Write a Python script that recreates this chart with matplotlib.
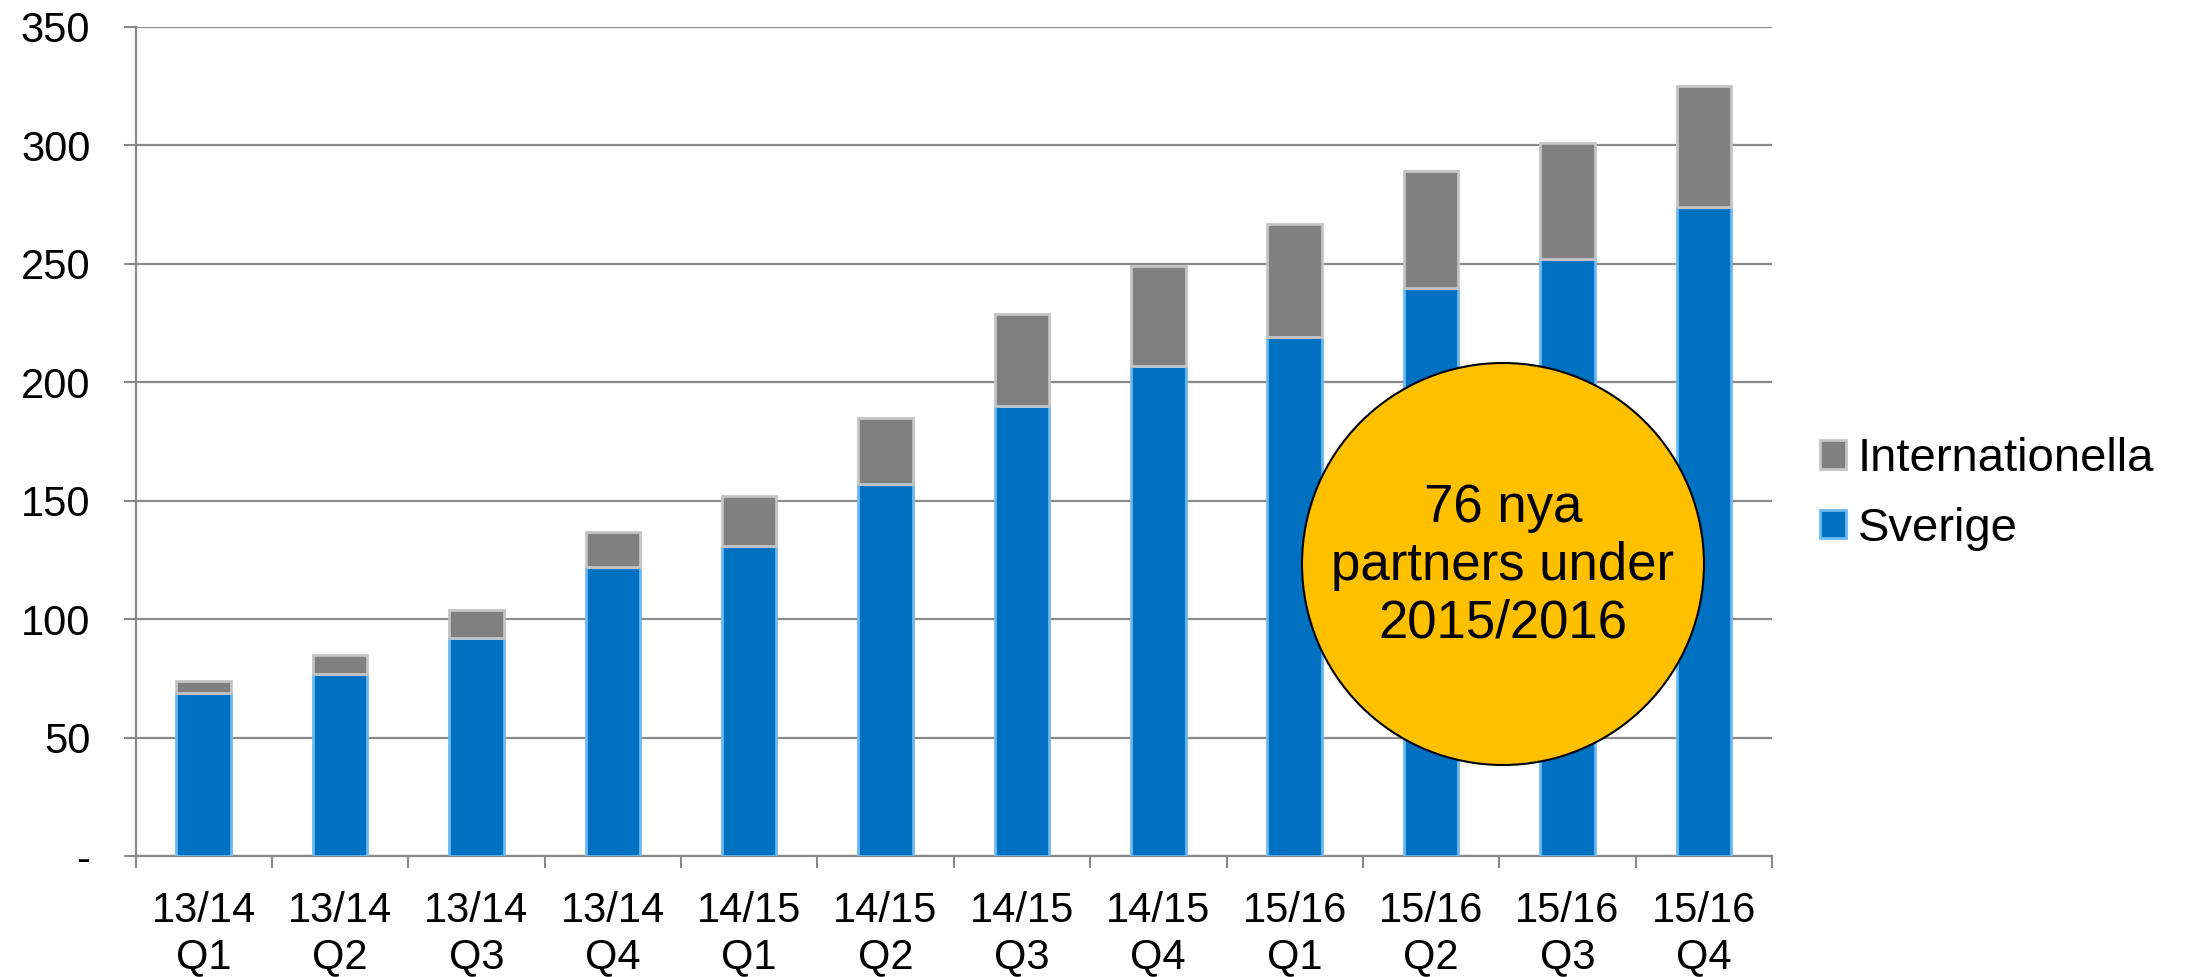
import matplotlib
matplotlib.use("Agg")
import matplotlib.pyplot as plt
import numpy as np
from matplotlib.patches import Ellipse, Patch

plt.rcParams['font.family'] = ['Liberation Sans', 'DejaVu Sans']

# ---- data ----
categories = ["13/14\nQ1", "13/14\nQ2", "13/14\nQ3", "13/14\nQ4",
              "14/15\nQ1", "14/15\nQ2", "14/15\nQ3", "14/15\nQ4",
              "15/16\nQ1", "15/16\nQ2", "15/16\nQ3", "15/16\nQ4"]
sverige = [69, 77, 92, 122, 131, 157, 190, 207, 219, 240, 252, 274]
internationella = [5, 8, 12, 15, 21, 28, 39, 42, 48, 49, 49, 51]
ytick_values = [0, 50, 100, 150, 200, 250, 300, 350]
ytick_labels = ["-", "50", "100", "150", "200", "250", "300", "350"]
series_names = ["Sverige", "Internationella"]
callout_text = "76 nya\npartners under\n2015/2016"

# ---- styling ----
W, H = 2189, 977
fig = plt.figure(figsize=(W / 100, H / 100), dpi=100)
ax = fig.add_axes([135.5 / W, 1 - 856 / H, (1772 - 135.5) / W, (856 - 27) / H])

grid_c = "#8A8A8A"
blue = "#0070C0"
blue_edge = "#6CB8F2"
grey = "#808080"
grey_edge = "#C4C4C4"

x = np.arange(len(categories))
bw = 0.4
ax.bar(x, sverige, width=bw, color=blue, edgecolor=blue_edge, linewidth=2.0,
       label=series_names[0], zorder=3)
ax.bar(x, internationella, width=bw, bottom=sverige, color=grey,
       edgecolor=grey_edge, linewidth=2.0, label=series_names[1], zorder=3)

ax.set_xlim(-0.5, len(categories) - 0.5)
ax.set_ylim(0, 350)

ax.set_yticks(ytick_values)
ax.set_yticklabels(ytick_labels)
ax.tick_params(axis='y', which='major', length=9, width=1.5, color=grid_c,
               pad=23.5, labelsize=30)

ax.set_xticks(np.arange(len(categories) + 1) - 0.5)
ax.set_xticklabels([])
ax.set_xticks(x, minor=True)
ax.set_xticklabels(categories, minor=True, fontsize=30, linespacing=1.2)
ax.tick_params(axis='x', which='major', length=8.6, width=1.5, color=grid_c)
ax.tick_params(axis='x', which='minor', length=0, pad=25)

ax.yaxis.grid(True, color=grid_c, linewidth=1.6, zorder=0)
ax.set_axisbelow(True)
for s in ["top", "right"]:
    ax.spines[s].set_visible(False)
for s in ["left", "bottom"]:
    ax.spines[s].set_color(grid_c)
    ax.spines[s].set_linewidth(1.6)

# legend
handles = [Patch(facecolor=grey, edgecolor=grey_edge, linewidth=2, label=series_names[1]),
           Patch(facecolor=blue, edgecolor=blue_edge, linewidth=2, label=series_names[0])]
fig.legend(handles=handles, loc="center left", bbox_to_anchor=(1820 / W, 1 - 494 / H),
           frameon=False, fontsize=34, handlelength=0.55, handleheight=0.55,
           handletextpad=0.25, labelspacing=0.54, borderpad=0, borderaxespad=0)

# callout circle
cx, cy, r = 1503, 564, 201
circ = Ellipse((cx / W, 1 - cy / H), 2 * r / W, 2 * r / H, transform=fig.transFigure,
               facecolor="#FFC000", edgecolor="black", linewidth=1.5, zorder=10)
fig.patches.append(circ)
fig.text(cx / W, 1 - (cy + 2) / H, callout_text, ha="center", va="center",
         fontsize=38, linespacing=1.2, zorder=11)

fig.savefig("out.png", dpi=100)
